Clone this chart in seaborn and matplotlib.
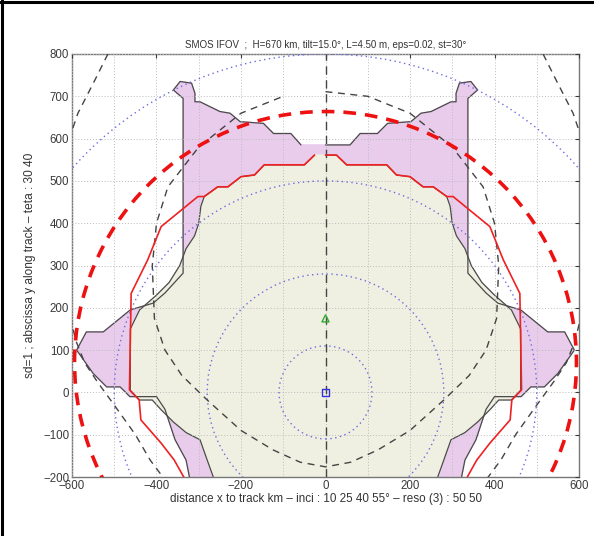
import numpy as np
import matplotlib
matplotlib.use("Agg")
import matplotlib.pyplot as plt
import seaborn as sns
from matplotlib.patches import Circle
from matplotlib.lines import Line2D

# ---- data (right half, mirrored for the left side) ----
# outer boundary of the pink alias-free region
pink_x = [0, 58, 82, 123, 147, 202, 226, 250, 297, 309, 309, 317, 344, 360, 337,
          337, 380, 408, 462, 526, 566, 589, 550, 518, 486, 463, 400, 380,
          356, 330, 320]
pink_y = [585, 585, 612, 612, 636, 640, 660, 664, 687, 687, 707, 731, 735, 715, 695,
          282, 235, 211, 195, 143, 143, 100, 45, 13, 13, -10, -10, -40,
          -112, -160, -210]

# inner (beige) region
beige_x = [0, 26, 50, 145, 168, 200, 231, 255, 287, 295, 300, 310, 330, 345, 370,
           400, 440, 462, 462, 440, 410, 390, 360, 330, 297, 280, 262]
beige_y = [561, 561, 538, 538, 514, 510, 486, 486, 463, 440, 400, 370, 340, 300, 260,
           230, 195, 150, 5, -18, -18, -40, -70, -95, -112, -160, -210]

# red resolution contour
red_x = [0, 26, 50, 145, 168, 200, 231, 255, 287, 302, 389, 421, 460, 464, 441,
         437, 389, 358, 330]
red_y = [561, 561, 538, 538, 514, 510, 486, 486, 463, 463, 392, 313, 234, 6, -18,
         -65, -120, -160, -210]

# teta contours (black dashed)
teta30_x = [0, 100, 200, 300, 373, 400, 410, 405, 380, 340, 280, 200, 124, 60, 0]
teta30_y = [711, 700, 660, 580, 486, 400, 300, 175, 100, 40, -18, -90, -136, -165, -176]
teta40_x = [515, 545, 586, 620, 640, 630, 610, 590, 570, 540, 500, 450, 415, 385, 330]
teta40_y = [800, 740, 660, 560, 420, 300, 200, 120, 70, 25, -30, -100, -160, -200, -260]

# incidence circles (blue dotted) and red dashed circle
inci_radius = [110, 280, 500, 800]
red_circle_center = (0, 70)
red_circle_radius = 594

# markers
nadir_pt = (0, 0)
bore_pt = (0, 175)

title = "SMOS IFOV  ;  H=670 km, tilt=15.0\u00b0, L=4.50 m, eps=0.02, st=30\u00b0"
xlabel = "distance x to track km \u2013 inci : 10 25 40 55\u00b0 \u2013 reso (3) : 50 50"
ylabel = "sd=1 ; abscissa y along track \u2013 teta : 30 40"


def mirror(xs, ys):
    xs = np.asarray(xs, float)
    ys = np.asarray(ys, float)
    start = 1 if xs[0] == 0 else 0
    return (np.concatenate([xs, -xs[::-1][:len(xs) - start]]),
            np.concatenate([ys, ys[::-1][:len(ys) - start]]))


sns.set_style("white")
plt.rcParams["font.family"] = ["Liberation Sans", "DejaVu Sans"]

fig = plt.figure(figsize=(5.94, 5.36), dpi=100)
ax = fig.add_axes([72 / 594, 59 / 536, 507 / 594, 423 / 536])

edge = "#4a4a4a"
px, py = mirror(pink_x, pink_y)
ax.fill(px, py, color="#E9CBEC", zorder=1)
ax.plot(px, py, color=edge, lw=0.9, zorder=2)

bx, by = mirror(beige_x, beige_y)
ax.fill(bx, by, color="#EFF0E1", zorder=1.5)
ax.plot(bx, by, color=edge, lw=0.9, zorder=2)

for r in inci_radius:
    ax.add_patch(Circle(nadir_pt, r, fill=False, ec="#6C6CE0", lw=1.0,
                        ls=(0, (1, 2.5)), zorder=3))

mx, my = mirror(teta30_x, teta30_y)
sns.lineplot(x=mx, y=my, sort=False, estimator=None, ax=ax, color="#444444",
             lw=1.0, zorder=3)
ax.lines[-1].set_dashes([5, 4])
for sgn in (1, -1):
    sns.lineplot(x=sgn * np.asarray(teta40_x), y=teta40_y, sort=False, estimator=None,
                 ax=ax, color="#444444", lw=1.0, zorder=3)
    ax.lines[-1].set_dashes([5, 4])

rx, ry = mirror(red_x, red_y)
ax.plot(rx, ry, color="#EE2222", lw=1.2, zorder=4)

ax.add_patch(Circle(red_circle_center, red_circle_radius, fill=False, ec="#EE1111",
                    lw=2.6, ls=(0, (3.5, 2.5)), zorder=4))

ax.axvline(0, color="#444444", lw=1.0, dashes=[6, 4], zorder=3)

sns.scatterplot(x=[nadir_pt[0]], y=[nadir_pt[1]], marker="s", s=22, ax=ax,
                facecolor="none", edgecolor="#3333DD", linewidth=1.0, zorder=5)
sns.scatterplot(x=[bore_pt[0]], y=[bore_pt[1]], marker="^", s=26, ax=ax,
                facecolor="none", edgecolor="#33AA33", linewidth=1.0, zorder=5)

ax.set_xlim(-600, 600)
ax.set_ylim(-200, 800)
ax.set_xticks(np.arange(-600, 601, 200))
ax.set_xticks(np.arange(-500, 601, 200), minor=True)
ax.set_yticks(np.arange(-200, 801, 100))
ax.grid(True, which="both", color="#bbbbbb", lw=0.7, ls=(0, (1, 2)), zorder=6)
ax.set_axisbelow(False)
ax.tick_params(direction="in", top=True, right=True, length=3, labelsize=8.3,
               colors="#3a3a3a", pad=2)
ax.tick_params(which="minor", length=0)
for s in ax.spines.values():
    s.set_color("#777777")
    s.set_linewidth(1.0)

ax.set_title(title, fontsize=7, color="#333333", pad=4)
ax.set_xlabel(xlabel, fontsize=8.4, color="#333333", labelpad=1)
ax.set_ylabel(ylabel, fontsize=8.6, color="#333333", labelpad=5)

fig.add_artist(Line2D([0.004, 0.004], [0, 1], color="black", lw=2.2))
fig.add_artist(Line2D([0, 1], [0.996, 0.996], color="black", lw=2.2))

fig.savefig("out.png", dpi=100)
